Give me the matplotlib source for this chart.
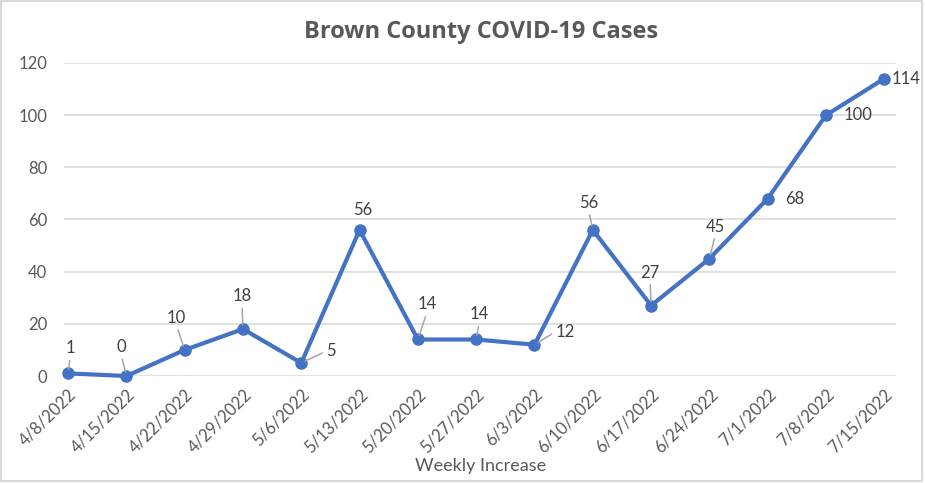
# Brown County COVID-19 weekly cases chart (Excel style line chart)

import numpy as np
import matplotlib
matplotlib.use('Agg')
import matplotlib.pyplot as plt
from matplotlib.patches import Rectangle

#==========================================================
# Data
#==========================================================
weeks = ['4/8/2022', '4/15/2022', '4/22/2022', '4/29/2022', '5/6/2022',
         '5/13/2022', '5/20/2022', '5/27/2022', '6/3/2022', '6/10/2022',
         '6/17/2022', '6/24/2022', '7/1/2022', '7/8/2022', '7/15/2022']
cases = [1, 0, 10, 18, 5, 56, 14, 14, 12, 56, 27, 45, 68, 100, 114]

# label offsets (pixels), side ('t' above / 'r' right) and leader line flag
lab_dx = [2, -5, -8, -1, 25, 3, 9, 3, 21, -4, -1, 6, 17, 18, 7]
lab_dy = [25, 29, 32, 33, 12, 20, 35, 25, 13, 27, 33, 32, 0, 0, 0]
lab_side = ['t', 't', 't', 't', 'r', 't', 't', 't', 'r', 't', 't', 't', 'r', 'r', 'r']
leader = [1, 1, 1, 1, 1, 0, 1, 1, 1, 1, 1, 1, 0, 0, 0]

#==========================================================
# Style
#==========================================================
plt.rcParams['font.family'] = ['Lato', 'DejaVu Sans']
txt_c = '#595959'
line_c = '#4472C4'
grid_c = '#D9D9D9'

fig = plt.figure(figsize=(9.25, 4.83), dpi=100)
ax = fig.add_axes([0.0692, 0.2215, 0.8994, 0.6481])

x = np.arange(len(weeks))
ax.plot(x, cases, color=line_c, linewidth=3.0, marker='o', markersize=8,
        zorder=5, clip_on=False)

ax.set_xlim(-0.07, 14.2)
ax.set_ylim(0, 120)
ax.set_yticks(np.arange(0, 121, 20))
ax.set_xticks(x)
ax.set_xticklabels(weeks, rotation=45, ha='right', rotation_mode='anchor')
ax.tick_params(axis='both', length=0, labelsize=12, labelcolor=txt_c)
ax.tick_params(axis='y', pad=12)
ax.tick_params(axis='x', pad=7)
ax.yaxis.grid(True, color=grid_c, linewidth=1.1)
ax.set_axisbelow(True)
for s in ax.spines.values():
    s.set_visible(False)

# data labels
for i in range(len(cases)):
    if lab_side[i] == 't':
        ha, rp = 'center', (0.5, 0.0)
    else:
        ha, rp = 'left', (0.0, 0.5)
    if leader[i]:
        ap = dict(arrowstyle='-', color='#A6A6A6', lw=1.1, shrinkA=1, shrinkB=3,
                  relpos=rp)
    else:
        ap = None
    ax.annotate(str(cases[i]), xy=(x[i], cases[i]), xytext=(lab_dx[i], lab_dy[i]),
                textcoords='offset pixels', ha=ha, va='center', fontsize=12,
                color='#404040', arrowprops=ap, zorder=6, annotation_clip=False)

fig.text(0.5205, 0.934, 'Brown County COVID-19 Cases', ha='center', va='center',
         fontsize=17, fontweight='bold', color=txt_c, family='Open Sans')
fig.text(0.519, 0.035, 'Weekly Increase', ha='center', va='center',
         fontsize=13, color=txt_c)

# chart border
fig.patches.append(Rectangle((0.001, 0.004), 0.996, 0.993, transform=fig.transFigure,
                             fill=False, edgecolor=grid_c, linewidth=1.5))

fig.savefig('out.png', dpi=100)
plt.close()
